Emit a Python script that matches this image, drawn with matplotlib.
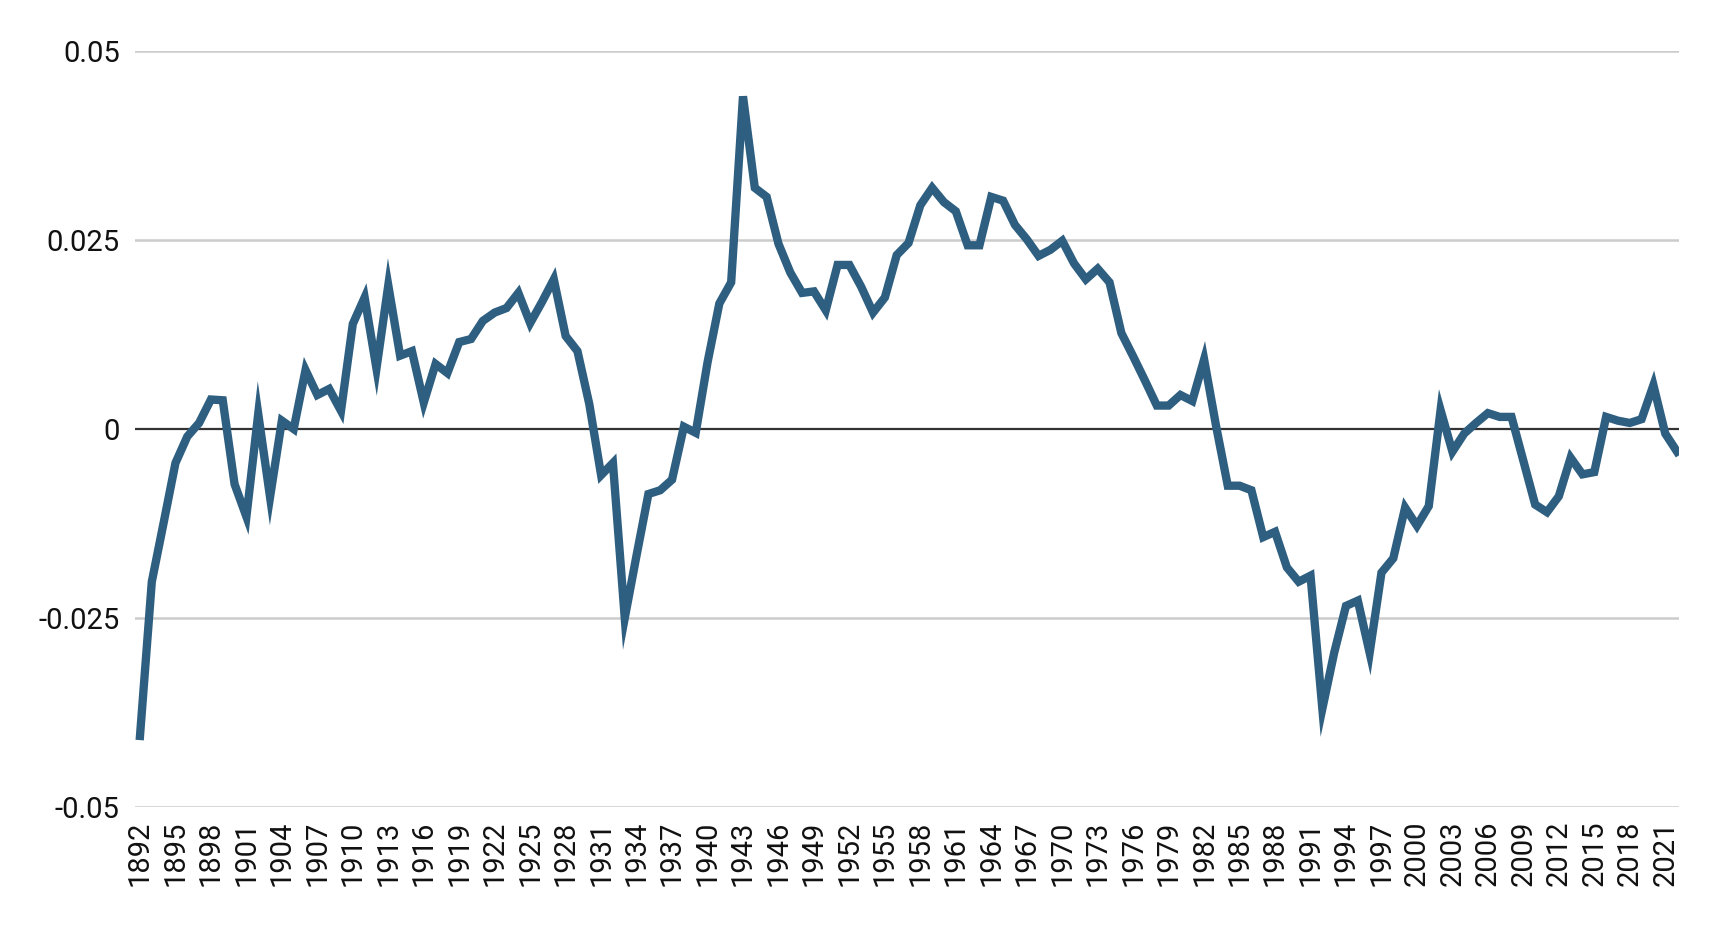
import numpy as np
import matplotlib.pyplot as plt

plt.rcParams['font.family'] = ['Roboto', 'DejaVu Sans']

# yearly values
years = list(range(1892, 2023))
values = [
    -0.0406, -0.0202, -0.0124, -0.0045, -0.0010, 0.0008, 0.0039, 0.0038, -0.0073, -0.0116,  # 1892-1901
    0.0020, -0.0090, 0.0011, 0.0000, 0.0078, 0.0045, 0.0053, 0.0024, 0.0139, 0.0174,        # 1902-1911
    0.0080, 0.0190, 0.0097, 0.0103, 0.0035, 0.0086, 0.0074, 0.0115, 0.0119, 0.0143,         # 1912-1921
    0.0154, 0.0160, 0.0180, 0.0140, 0.0168, 0.0198, 0.0123, 0.0103, 0.0033, -0.0061,        # 1922-1931
    -0.0045, -0.0250, -0.0167, -0.0086, -0.0081, -0.0067, 0.0003, -0.0005, 0.0088, 0.0166,  # 1932-1941
    0.0194, 0.0440, 0.0319, 0.0307, 0.0245, 0.0207, 0.0180, 0.0182, 0.0157, 0.0217,         # 1942-1951
    0.0217, 0.0188, 0.0154, 0.0174, 0.0230, 0.0246, 0.0296, 0.0319, 0.0300, 0.0288,         # 1952-1961
    0.0243, 0.0243, 0.0307, 0.0302, 0.0270, 0.0251, 0.0229, 0.0237, 0.0249, 0.0219,         # 1962-1971
    0.0198, 0.0212, 0.0194, 0.0127, 0.0096, 0.0064, 0.0031, 0.0031, 0.0045, 0.0037,         # 1972-1981
    0.0092, 0.0005, -0.0075, -0.0075, -0.0081, -0.0143, -0.0136, -0.0183, -0.0202, -0.0194, # 1982-1991
    -0.0370, -0.0296, -0.0234, -0.0227, -0.0296, -0.0190, -0.0171, -0.0104, -0.0128, -0.0102, # 1992-2001
    0.0025, -0.0030, -0.0006, 0.0008, 0.0021, 0.0016, 0.0016, -0.0042, -0.0100, -0.0110,    # 2002-2011
    -0.0089, -0.0038, -0.0060, -0.0057, 0.0016, 0.0011, 0.0008, 0.0013, 0.0058, -0.0006,    # 2012-2021
    -0.0030,                                                                                 # 2022
]
y_ticks = [-0.05, -0.025, 0, 0.025, 0.05]
y_labels = ['-0.05', '-0.025', '0', '0.025', '0.05']
x_ticks = list(range(1892, 2022, 3))

fig = plt.figure(figsize=(17.2, 9.32), dpi=100)
ax = fig.add_axes([0.0785, 0.1341, 0.8977, 0.8112])

for v in y_ticks:
    if v != 0:
        ax.axhline(v, color='#cccccc', lw=1.8, zorder=1)
ax.axhline(0, color='#333333', lw=1.6, zorder=2)

ax.plot(years, values, color='#2f5f80', lw=6, solid_joinstyle='miter', zorder=3)

ax.set_xlim(1891.58, 2022.17)
ax.set_ylim(-0.05, 0.05)
ax.set_yticks(y_ticks)
ax.set_yticklabels(y_labels)
ax.set_xticks(x_ticks)
ax.set_xticklabels([str(x) for x in x_ticks], rotation=90)
ax.tick_params(axis='both', length=0, labelsize=21, colors='#111111')
ax.tick_params(axis='y', pad=11)
ax.tick_params(axis='x', pad=10)
for s in ax.spines.values():
    s.set_visible(False)

fig.savefig('out.png', dpi=100, facecolor='white')
